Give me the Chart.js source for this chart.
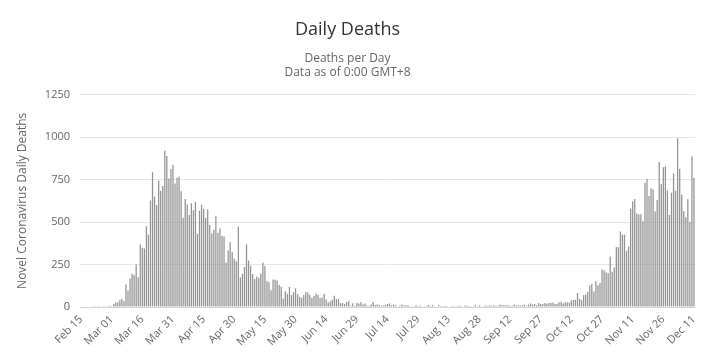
<!DOCTYPE html>
<html>
<head>
<meta charset="utf-8">
<script src="https://cdn.jsdelivr.net/npm/chart.js@4/dist/chart.umd.min.js"></script>
<style>
  html, body { margin: 0; padding: 0; background: #ffffff; }
  #wrap { width: 716px; height: 359px; }
</style>
</head>
<body>
<div id="wrap"><canvas id="c" width="716" height="359"></canvas></div>
<script>
// ---- Data (daily deaths, Feb 15 – Dec 11) ----
const febDeaths = [0,0,0,0,0,0,1,1,1,4,3,2,5,4,8]; // Feb 15–29
const marDeaths = [5,18,27,28,41,49,36,133,97,168,196,189,250,175,368,349,345,475,427,627,793,651,601,743,683,712,919,889,756,812,837];
const aprDeaths = [727,760,766,681,525,636,604,542,610,570,619,431,566,602,578,525,575,482,433,454,534,437,464,420,415,260,333,382,323,285];
const mayDeaths = [269,474,174,195,236,369,274,243,194,165,179,172,195,262,242,153,145,99,162,161,156,130,119,50,92,78,117,70,87,111,75];
const junDeaths = [60,55,71,88,85,72,53,65,79,71,53,56,78,44,26,34,43,66,47,49,24,23,18,30,34,8,22,6,23,21];
const julDeaths = [30,15,21,7,8,15,30,12,15,12,7,9,13,17,20,11,13,9,3,7,15,9,11,10,5,5,5,11,6,9,3];
const augDeaths = [5,5,12,6,10,6,3,13,6,4,6,6,3,4,6,4,4,7,6,3,9,7,2,4,4,13,5,9,1,1,9];
const sepDeaths = [6,10,6,10,7,7,14,10,10,11,10,6,7,14,9,10,9,10,14,7,14,20,14,17,10,24,17,17,24,19];
const octDeaths = [23,24,27,18,17,28,31,22,28,28,26,39,41,43,83,47,41,69,73,89,127,136,91,151,128,141,221,217,205,199,297];
const novDeaths = [208,233,353,352,445,426,425,331,356,580,623,636,550,544,546,504,731,753,653,699,692,562,630,853,722,822,827,686,541,672];
const decDeaths = [785,684,993,814,662,564,528,634,499,887,761];

const tickLabels = ['Feb 15','Mar 01','Mar 16','Mar 31','Apr 15','Apr 30','May 15','May 30','Jun 14','Jun 29',
                    'Jul 14','Jul 29','Aug 13','Aug 28','Sep 12','Sep 27','Oct 12','Oct 27','Nov 11','Nov 26','Dec 11'];
const tickEvery = 15;

const deaths = [].concat(febDeaths, marDeaths, aprDeaths, mayDeaths, junDeaths, julDeaths,
                         augDeaths, sepDeaths, octDeaths, novDeaths, decDeaths);

// category labels: one per day starting Feb 15, 2020
const monthNames = ['Jan','Feb','Mar','Apr','May','Jun','Jul','Aug','Sep','Oct','Nov','Dec'];
const categories = [];
{
  const d = new Date(Date.UTC(2020, 1, 15));
  for (let i = 0; i < deaths.length; i++) {
    categories.push(monthNames[d.getUTCMonth()] + ' ' + String(d.getUTCDate()).padStart(2, '0'));
    d.setUTCDate(d.getUTCDate() + 1);
  }
}

const FONT = "'Open Sans', 'DejaVu Sans', sans-serif";

new Chart(document.getElementById('c'), {
  type: 'bar',
  data: {
    labels: categories,
    datasets: [{
      label: 'Daily Deaths',
      data: deaths,
      backgroundColor: '#939393',
      borderWidth: 0,
      barPercentage: 0.62,
      categoryPercentage: 1.0
    }]
  },
  options: {
    responsive: false,
    animation: false,
    layout: { padding: { left: 0, right: 21, top: 0, bottom: 0 } },
    plugins: {
      legend: { display: false },
      tooltip: { enabled: false },
      title: {
        display: true,
        text: 'Daily Deaths',
        color: '#333333',
        font: { family: FONT, size: 18, weight: 'normal', lineHeight: 1.2 },
        padding: { top: 19, bottom: 0 }
      },
      subtitle: {
        display: true,
        text: ['Deaths per Day', 'Data as of 0:00 GMT+8'],
        color: '#666666',
        font: { family: FONT, size: 12, weight: 'normal', lineHeight: 14 / 12 },
        padding: { top: 11, bottom: 15 }
      }
    },
    scales: {
      x: {
        type: 'category',
        offset: true,
        grid: { display: false, drawTicks: false },
        border: { display: true, color: '#ccd6eb', width: 1 },
        ticks: {
          autoSkip: false,
          maxRotation: 45,
          minRotation: 45,
          padding: 6,
          color: '#666666',
          font: { family: FONT, size: 11 },
          callback: function (value, index) {
            return index % tickEvery === 0 ? tickLabels[index / tickEvery] : null;
          }
        },
        afterFit: function (scale) { scale.height = 52; }
      },
      y: {
        min: 0,
        max: 1250,
        grid: { color: '#e6e6e6', drawTicks: false },
        border: { display: false },
        ticks: {
          stepSize: 250,
          padding: 10,
          color: '#666666',
          font: { family: FONT, size: 11 },
          callback: function (value) { return String(value); }
        },
        title: {
          display: true,
          text: 'Novel Coronavirus Daily Deaths',
          color: '#666666',
          font: { family: FONT, size: 12, weight: 'normal' },
          padding: { top: 15, bottom: 0 }
        },
        afterFit: function (scale) { scale.width = 80; }
      }
    }
  }
});
</script>
</body>
</html>
